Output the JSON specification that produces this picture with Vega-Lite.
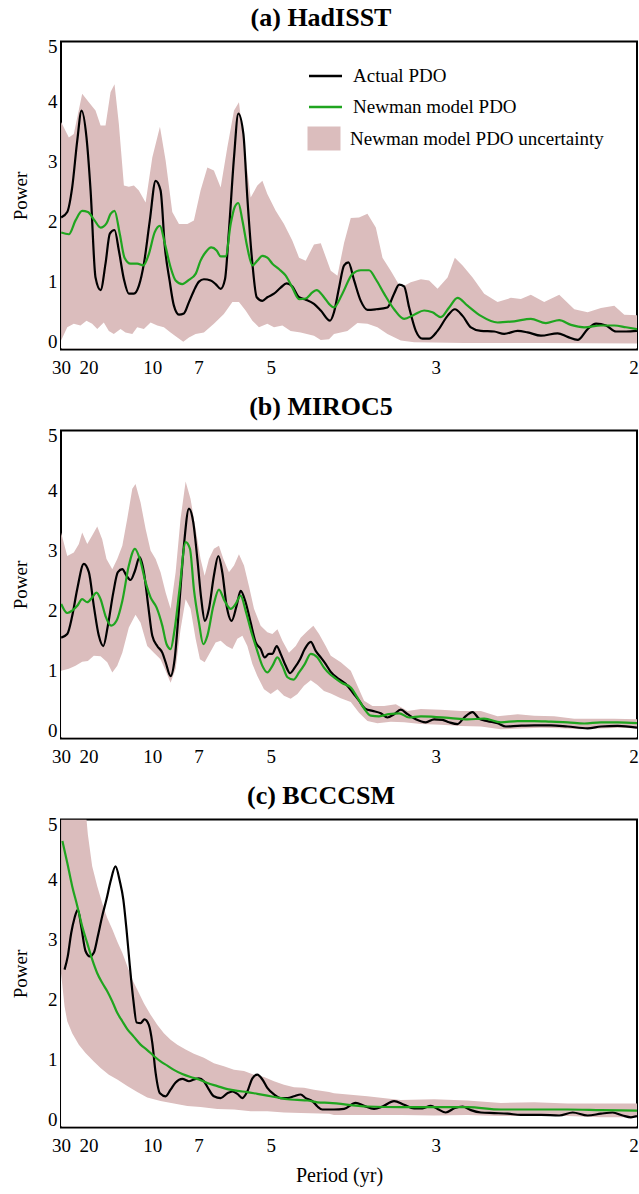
{
"$schema": "https://vega.github.io/schema/vega-lite/v6.json",
"background": "white",
"padding": {"left": 10, "top": 3.5, "right": 2, "bottom": 4},
"spacing": 81,
"bounds": "flush",
"config": {
  "font": "Liberation Serif",
  "view": {"stroke": "black", "strokeWidth": 2},
  "axis": {"grid": false, "domain": false, "ticks": false, "labelFont": "Liberation Serif", "labelFontSize": 19, "labelColor": "black", "titleFont": "Liberation Serif", "titleFontSize": 19, "titleFontWeight": "normal", "titleColor": "black", "labelFlush": false, "labelOverlap": false},
  "legend": {"labelFont": "Liberation Serif", "labelFontSize": 19, "labelColor": "black", "labelLimit": 0},
  "title": {"font": "Liberation Serif", "fontSize": 26, "fontWeight": "bold", "color": "black", "baseline": "alphabetic", "offset": 7}
},
"datasets": {
"a_act": [{"f":0.0335,"p":2.07},{"f":0.0384,"p":2.16},{"f":0.0424,"p":2.57},{"f":0.0465,"p":3.35},{"f":0.0500,"p":3.85},{"f":0.0540,"p":3.40},{"f":0.0573,"p":2.52},{"f":0.0613,"p":1.07},{"f":0.0654,"p":0.86},{"f":0.0694,"p":1.30},{"f":0.0729,"p":1.80},{"f":0.0767,"p":1.86},{"f":0.0802,"p":1.52},{"f":0.0843,"p":1.04},{"f":0.0883,"p":0.80},{"f":0.0924,"p":0.80},{"f":0.0964,"p":0.93},{"f":0.1005,"p":1.30},{"f":0.1053,"p":2.02},{"f":0.1100,"p":2.68},{"f":0.1140,"p":2.52},{"f":0.1175,"p":1.57},{"f":0.1213,"p":1.02},{"f":0.1248,"p":0.60},{"f":0.1289,"p":0.45},{"f":0.1329,"p":0.47},{"f":0.1370,"p":0.66},{"f":0.1410,"p":0.85},{"f":0.1451,"p":1.00},{"f":0.1491,"p":1.04},{"f":0.1546,"p":1.02},{"f":0.1586,"p":0.96},{"f":0.1627,"p":0.88},{"f":0.1662,"p":1.04},{"f":0.1694,"p":1.85},{"f":0.1735,"p":3.07},{"f":0.1770,"p":3.80},{"f":0.1811,"p":3.46},{"f":0.1843,"p":2.40},{"f":0.1884,"p":1.30},{"f":0.1919,"p":0.74},{"f":0.1965,"p":0.68},{"f":0.2005,"p":0.74},{"f":0.2059,"p":0.80},{"f":0.2113,"p":0.90},{"f":0.2162,"p":0.97},{"f":0.2208,"p":0.92},{"f":0.2262,"p":0.74},{"f":0.2316,"p":0.70},{"f":0.2383,"p":0.63},{"f":0.2438,"p":0.52},{"f":0.2513,"p":0.35},{"f":0.2545,"p":0.49},{"f":0.2586,"p":0.90},{"f":0.2627,"p":1.27},{"f":0.2662,"p":1.32},{"f":0.2708,"p":1.02},{"f":0.2762,"p":0.68},{"f":0.2816,"p":0.53},{"f":0.2884,"p":0.54},{"f":0.2978,"p":0.57},{"f":0.3032,"p":0.80},{"f":0.3073,"p":0.95},{"f":0.3113,"p":0.92},{"f":0.3154,"p":0.57},{"f":0.3208,"p":0.18},{"f":0.3262,"p":0.05},{"f":0.3316,"p":0.05},{"f":0.3384,"p":0.18},{"f":0.3465,"p":0.43},{"f":0.3524,"p":0.54},{"f":0.3587,"p":0.43},{"f":0.3654,"p":0.24},{"f":0.3735,"p":0.18},{"f":0.3843,"p":0.17},{"f":0.3924,"p":0.13},{"f":0.4033,"p":0.18},{"f":0.4114,"p":0.155},{"f":0.4222,"p":0.10},{"f":0.4357,"p":0.14},{"f":0.4438,"p":0.08},{"f":0.4519,"p":0.03},{"f":0.4600,"p":0.21},{"f":0.4668,"p":0.30},{"f":0.4749,"p":0.27},{"f":0.4830,"p":0.17},{"f":0.4911,"p":0.17},{"f":0.5000,"p":0.18}],
"a_new": [{"f":0.0335,"p":1.82},{"f":0.0397,"p":1.79},{"f":0.0451,"p":2.02},{"f":0.0505,"p":2.18},{"f":0.0551,"p":2.16},{"f":0.0605,"p":2.02},{"f":0.0654,"p":1.90},{"f":0.0702,"p":1.97},{"f":0.0735,"p":2.13},{"f":0.0767,"p":2.18},{"f":0.0810,"p":1.79},{"f":0.0848,"p":1.40},{"f":0.0897,"p":1.30},{"f":0.0951,"p":1.30},{"f":0.1000,"p":1.27},{"f":0.1045,"p":1.46},{"f":0.1092,"p":1.82},{"f":0.1135,"p":1.93},{"f":0.1175,"p":1.63},{"f":0.1221,"p":1.24},{"f":0.1262,"p":1.02},{"f":0.1316,"p":0.96},{"f":0.1370,"p":1.03},{"f":0.1424,"p":1.13},{"f":0.1464,"p":1.35},{"f":0.1505,"p":1.49},{"f":0.1551,"p":1.57},{"f":0.1594,"p":1.52},{"f":0.1627,"p":1.42},{"f":0.1667,"p":1.42},{"f":0.1708,"p":1.96},{"f":0.1740,"p":2.24},{"f":0.1770,"p":2.31},{"f":0.1803,"p":2.02},{"f":0.1843,"p":1.57},{"f":0.1884,"p":1.27},{"f":0.1924,"p":1.35},{"f":0.1965,"p":1.43},{"f":0.2005,"p":1.40},{"f":0.2046,"p":1.30},{"f":0.2099,"p":1.21},{"f":0.2154,"p":1.10},{"f":0.2208,"p":0.90},{"f":0.2262,"p":0.71},{"f":0.2316,"p":0.72},{"f":0.2370,"p":0.82},{"f":0.2404,"p":0.86},{"f":0.2464,"p":0.74},{"f":0.2505,"p":0.63},{"f":0.2545,"p":0.57},{"f":0.2613,"p":0.80},{"f":0.2695,"p":1.13},{"f":0.2762,"p":1.19},{"f":0.2829,"p":1.19},{"f":0.2884,"p":1.04},{"f":0.2951,"p":0.80},{"f":0.3032,"p":0.54},{"f":0.3113,"p":0.38},{"f":0.3194,"p":0.45},{"f":0.3275,"p":0.52},{"f":0.3343,"p":0.49},{"f":0.3411,"p":0.41},{"f":0.3478,"p":0.57},{"f":0.3546,"p":0.73},{"f":0.3627,"p":0.60},{"f":0.3735,"p":0.43},{"f":0.3870,"p":0.32},{"f":0.4005,"p":0.34},{"f":0.4140,"p":0.38},{"f":0.4262,"p":0.31},{"f":0.4370,"p":0.36},{"f":0.4465,"p":0.28},{"f":0.4573,"p":0.24},{"f":0.4708,"p":0.27},{"f":0.4816,"p":0.27},{"f":0.4911,"p":0.24},{"f":0.5000,"p":0.21}],
"a_hi": [{"f":0.0334,"p":3.66},{"f":0.0397,"p":3.40},{"f":0.0437,"p":3.46},{"f":0.0505,"p":4.13},{"f":0.0559,"p":3.99},{"f":0.0613,"p":3.85},{"f":0.0654,"p":3.60},{"f":0.0694,"p":3.60},{"f":0.0735,"p":4.16},{"f":0.0767,"p":4.29},{"f":0.0802,"p":3.63},{"f":0.0843,"p":2.60},{"f":0.0883,"p":2.58},{"f":0.0924,"p":2.60},{"f":0.0964,"p":2.52},{"f":0.1019,"p":2.32},{"f":0.1073,"p":3.07},{"f":0.1135,"p":3.58},{"f":0.1181,"p":3.02},{"f":0.1235,"p":2.16},{"f":0.1289,"p":1.96},{"f":0.1357,"p":1.96},{"f":0.1410,"p":2.02},{"f":0.1464,"p":2.52},{"f":0.1519,"p":2.90},{"f":0.1572,"p":2.85},{"f":0.1627,"p":2.57},{"f":0.1681,"p":3.24},{"f":0.1735,"p":3.85},{"f":0.1775,"p":3.99},{"f":0.1816,"p":3.29},{"f":0.1870,"p":2.40},{"f":0.1924,"p":2.60},{"f":0.1965,"p":2.68},{"f":0.2005,"p":2.46},{"f":0.2073,"p":2.18},{"f":0.2140,"p":1.96},{"f":0.2208,"p":1.68},{"f":0.2262,"p":1.40},{"f":0.2316,"p":1.35},{"f":0.2383,"p":1.62},{"f":0.2438,"p":1.64},{"f":0.2519,"p":1.18},{"f":0.2573,"p":1.10},{"f":0.2627,"p":1.65},{"f":0.2681,"p":2.06},{"f":0.2748,"p":2.07},{"f":0.2816,"p":2.13},{"f":0.2884,"p":1.90},{"f":0.2938,"p":1.40},{"f":0.3005,"p":1.18},{"f":0.3086,"p":0.90},{"f":0.3167,"p":0.99},{"f":0.3249,"p":1.04},{"f":0.3316,"p":1.02},{"f":0.3384,"p":0.88},{"f":0.3465,"p":1.07},{"f":0.3524,"p":1.40},{"f":0.3587,"p":1.27},{"f":0.3668,"p":1.07},{"f":0.3762,"p":0.80},{"f":0.3870,"p":0.66},{"f":0.3978,"p":0.73},{"f":0.4059,"p":0.71},{"f":0.4140,"p":0.78},{"f":0.4248,"p":0.66},{"f":0.4370,"p":0.78},{"f":0.4492,"p":0.54},{"f":0.4600,"p":0.49},{"f":0.4708,"p":0.56},{"f":0.4816,"p":0.60},{"f":0.4897,"p":0.45},{"f":0.5000,"p":0.44}],
"a_lo": [{"f":0.0334,"p":0.02},{"f":0.0384,"p":0.24},{"f":0.0437,"p":0.30},{"f":0.0491,"p":0.27},{"f":0.0540,"p":0.35},{"f":0.0586,"p":0.30},{"f":0.0627,"p":0.21},{"f":0.0680,"p":0.32},{"f":0.0721,"p":0.18},{"f":0.0761,"p":0.13},{"f":0.0816,"p":0.21},{"f":0.0856,"p":0.155},{"f":0.0911,"p":0.13},{"f":0.0951,"p":0.24},{"f":0.1005,"p":0.21},{"f":0.1059,"p":0.32},{"f":0.1113,"p":0.27},{"f":0.1167,"p":0.24},{"f":0.1221,"p":0.155},{"f":0.1276,"p":0.07},{"f":0.1324,"p":0.0},{"f":0.1370,"p":0.07},{"f":0.1424,"p":0.13},{"f":0.1491,"p":0.155},{"f":0.1572,"p":0.30},{"f":0.1653,"p":0.46},{"f":0.1722,"p":0.66},{"f":0.1775,"p":0.66},{"f":0.1829,"p":0.52},{"f":0.1884,"p":0.35},{"f":0.1937,"p":0.24},{"f":0.2005,"p":0.30},{"f":0.2059,"p":0.24},{"f":0.2127,"p":0.27},{"f":0.2194,"p":0.18},{"f":0.2275,"p":0.155},{"f":0.2383,"p":0.10},{"f":0.2438,"p":0.03},{"f":0.2505,"p":0.04},{"f":0.2545,"p":0.13},{"f":0.2654,"p":0.18},{"f":0.2735,"p":0.31},{"f":0.2816,"p":0.30},{"f":0.2897,"p":0.24},{"f":0.2978,"p":0.13},{"f":0.3086,"p":0.02},{"f":0.3194,"p":-0.01},{"f":0.3600,"p":-0.02},{"f":0.4200,"p":-0.02},{"f":0.5000,"p":-0.03}],
"b_act": [{"f":0.0335,"p":1.55},{"f":0.0384,"p":1.61},{"f":0.0424,"p":1.91},{"f":0.0465,"p":2.36},{"f":0.0518,"p":2.78},{"f":0.0559,"p":2.64},{"f":0.0599,"p":2.08},{"f":0.0640,"p":1.58},{"f":0.0676,"p":1.41},{"f":0.0713,"p":1.75},{"f":0.0757,"p":2.30},{"f":0.0794,"p":2.64},{"f":0.0830,"p":2.69},{"f":0.0864,"p":2.58},{"f":0.0897,"p":2.51},{"f":0.0932,"p":2.66},{"f":0.0970,"p":2.89},{"f":0.1005,"p":2.64},{"f":0.1040,"p":2.08},{"f":0.1073,"p":1.58},{"f":0.1113,"p":1.41},{"f":0.1154,"p":1.30},{"f":0.1181,"p":1.14},{"f":0.1221,"p":0.91},{"f":0.1254,"p":1.19},{"f":0.1289,"p":2.03},{"f":0.1329,"p":3.08},{"f":0.1370,"p":3.70},{"f":0.1405,"p":3.47},{"f":0.1438,"p":2.86},{"f":0.1470,"p":2.19},{"f":0.1499,"p":1.83},{"f":0.1532,"p":2.03},{"f":0.1572,"p":2.58},{"f":0.1608,"p":2.91},{"f":0.1640,"p":2.64},{"f":0.1675,"p":2.08},{"f":0.1716,"p":1.83},{"f":0.1756,"p":2.08},{"f":0.1789,"p":2.33},{"f":0.1829,"p":2.14},{"f":0.1870,"p":1.80},{"f":0.1911,"p":1.47},{"f":0.1951,"p":1.36},{"f":0.1984,"p":1.22},{"f":0.2018,"p":1.28},{"f":0.2046,"p":1.28},{"f":0.2081,"p":1.41},{"f":0.2113,"p":1.28},{"f":0.2154,"p":1.08},{"f":0.2189,"p":0.96},{"f":0.2227,"p":1.05},{"f":0.2270,"p":1.19},{"f":0.2308,"p":1.36},{"f":0.2357,"p":1.48},{"f":0.2397,"p":1.33},{"f":0.2438,"p":1.22},{"f":0.2478,"p":1.11},{"f":0.2519,"p":0.98},{"f":0.2586,"p":0.86},{"f":0.2640,"p":0.78},{"f":0.2695,"p":0.64},{"f":0.2748,"p":0.50},{"f":0.2802,"p":0.36},{"f":0.2857,"p":0.33},{"f":0.2924,"p":0.29},{"f":0.2978,"p":0.22},{"f":0.3032,"p":0.275},{"f":0.3086,"p":0.35},{"f":0.3141,"p":0.275},{"f":0.3208,"p":0.19},{"f":0.3289,"p":0.14},{"f":0.3356,"p":0.19},{"f":0.3424,"p":0.18},{"f":0.3478,"p":0.14},{"f":0.3546,"p":0.11},{"f":0.3600,"p":0.22},{"f":0.3668,"p":0.31},{"f":0.3721,"p":0.20},{"f":0.3789,"p":0.16},{"f":0.3870,"p":0.125},{"f":0.3938,"p":0.07},{"f":0.4033,"p":0.08},{"f":0.4167,"p":0.09},{"f":0.4303,"p":0.09},{"f":0.4438,"p":0.07},{"f":0.4600,"p":0.04},{"f":0.4708,"p":0.07},{"f":0.4843,"p":0.08},{"f":0.5000,"p":0.05}],
"b_new": [{"f":0.0335,"p":2.11},{"f":0.0384,"p":1.96},{"f":0.0424,"p":2.00},{"f":0.0465,"p":2.08},{"f":0.0505,"p":2.19},{"f":0.0546,"p":2.14},{"f":0.0586,"p":2.22},{"f":0.0621,"p":2.30},{"f":0.0654,"p":2.19},{"f":0.0694,"p":1.91},{"f":0.0740,"p":1.75},{"f":0.0783,"p":1.83},{"f":0.0830,"p":2.16},{"f":0.0883,"p":2.75},{"f":0.0932,"p":3.03},{"f":0.0972,"p":2.86},{"f":0.1019,"p":2.47},{"f":0.1059,"p":2.22},{"f":0.1108,"p":2.05},{"f":0.1154,"p":1.75},{"f":0.1189,"p":1.44},{"f":0.1221,"p":1.36},{"f":0.1254,"p":1.69},{"f":0.1294,"p":2.36},{"f":0.1343,"p":3.14},{"f":0.1378,"p":3.03},{"f":0.1410,"p":2.36},{"f":0.1451,"p":1.80},{"f":0.1486,"p":1.44},{"f":0.1519,"p":1.58},{"f":0.1568,"p":2.08},{"f":0.1613,"p":2.35},{"f":0.1659,"p":2.16},{"f":0.1708,"p":2.03},{"f":0.1748,"p":2.11},{"f":0.1789,"p":2.25},{"f":0.1829,"p":2.00},{"f":0.1876,"p":1.64},{"f":0.1919,"p":1.36},{"f":0.1965,"p":1.08},{"f":0.2005,"p":0.97},{"f":0.2046,"p":1.08},{"f":0.2087,"p":1.22},{"f":0.2127,"p":1.08},{"f":0.2168,"p":0.89},{"f":0.2216,"p":0.85},{"f":0.2262,"p":0.97},{"f":0.2308,"p":1.11},{"f":0.2357,"p":1.28},{"f":0.2411,"p":1.22},{"f":0.2464,"p":1.05},{"f":0.2513,"p":0.94},{"f":0.2545,"p":0.89},{"f":0.2613,"p":0.79},{"f":0.2681,"p":0.72},{"f":0.2735,"p":0.55},{"f":0.2789,"p":0.37},{"f":0.2843,"p":0.25},{"f":0.2910,"p":0.24},{"f":0.2991,"p":0.275},{"f":0.3073,"p":0.29},{"f":0.3154,"p":0.22},{"f":0.3249,"p":0.24},{"f":0.3356,"p":0.23},{"f":0.3492,"p":0.21},{"f":0.3627,"p":0.19},{"f":0.3762,"p":0.20},{"f":0.3897,"p":0.14},{"f":0.4033,"p":0.16},{"f":0.4167,"p":0.16},{"f":0.4303,"p":0.15},{"f":0.4438,"p":0.14},{"f":0.4573,"p":0.12},{"f":0.4708,"p":0.14},{"f":0.4843,"p":0.14},{"f":0.5000,"p":0.125}],
"b_hi": [{"f":0.0334,"p":3.30},{"f":0.0384,"p":2.91},{"f":0.0437,"p":2.97},{"f":0.0478,"p":3.11},{"f":0.0505,"p":3.30},{"f":0.0546,"p":3.11},{"f":0.0586,"p":3.25},{"f":0.0627,"p":3.40},{"f":0.0667,"p":3.19},{"f":0.0702,"p":2.86},{"f":0.0749,"p":2.69},{"f":0.0789,"p":2.86},{"f":0.0830,"p":3.08},{"f":0.0870,"p":3.53},{"f":0.0911,"p":4.03},{"f":0.0937,"p":4.11},{"f":0.0978,"p":3.80},{"f":0.1019,"p":3.36},{"f":0.1059,"p":3.00},{"f":0.1100,"p":2.86},{"f":0.1140,"p":2.64},{"f":0.1181,"p":2.30},{"f":0.1221,"p":2.03},{"f":0.1262,"p":2.64},{"f":0.1302,"p":3.53},{"f":0.1343,"p":4.15},{"f":0.1383,"p":3.86},{"f":0.1424,"p":3.36},{"f":0.1464,"p":2.86},{"f":0.1497,"p":2.58},{"f":0.1532,"p":2.86},{"f":0.1572,"p":3.03},{"f":0.1613,"p":3.08},{"f":0.1649,"p":2.86},{"f":0.1694,"p":2.64},{"f":0.1735,"p":2.75},{"f":0.1775,"p":2.94},{"f":0.1816,"p":2.75},{"f":0.1856,"p":2.41},{"f":0.1897,"p":2.03},{"f":0.1951,"p":1.75},{"f":0.2005,"p":1.64},{"f":0.2046,"p":1.61},{"f":0.2087,"p":1.69},{"f":0.2127,"p":1.50},{"f":0.2180,"p":1.30},{"f":0.2235,"p":1.41},{"f":0.2275,"p":1.55},{"f":0.2330,"p":1.66},{"f":0.2378,"p":1.75},{"f":0.2424,"p":1.61},{"f":0.2478,"p":1.41},{"f":0.2519,"p":1.25},{"f":0.2600,"p":1.14},{"f":0.2681,"p":1.00},{"f":0.2735,"p":0.75},{"f":0.2789,"p":0.50},{"f":0.2857,"p":0.41},{"f":0.2951,"p":0.41},{"f":0.3046,"p":0.44},{"f":0.3141,"p":0.33},{"f":0.3249,"p":0.36},{"f":0.3411,"p":0.35},{"f":0.3573,"p":0.33},{"f":0.3735,"p":0.33},{"f":0.3870,"p":0.24},{"f":0.4033,"p":0.275},{"f":0.4167,"p":0.25},{"f":0.4329,"p":0.24},{"f":0.4492,"p":0.20},{"f":0.4654,"p":0.20},{"f":0.4816,"p":0.20},{"f":0.5000,"p":0.19}],
"b_lo": [{"f":0.0334,"p":1.00},{"f":0.0397,"p":1.03},{"f":0.0451,"p":1.08},{"f":0.0505,"p":1.15},{"f":0.0551,"p":1.16},{"f":0.0599,"p":1.25},{"f":0.0654,"p":1.24},{"f":0.0708,"p":1.14},{"f":0.0749,"p":0.97},{"f":0.0789,"p":1.08},{"f":0.0830,"p":1.30},{"f":0.0883,"p":1.72},{"f":0.0937,"p":1.93},{"f":0.0978,"p":1.80},{"f":0.1032,"p":1.41},{"f":0.1086,"p":1.30},{"f":0.1140,"p":1.19},{"f":0.1181,"p":1.00},{"f":0.1221,"p":0.80},{"f":0.1262,"p":1.03},{"f":0.1302,"p":1.69},{"f":0.1343,"p":2.19},{"f":0.1383,"p":2.03},{"f":0.1424,"p":1.53},{"f":0.1459,"p":1.19},{"f":0.1497,"p":1.14},{"f":0.1540,"p":1.30},{"f":0.1586,"p":1.47},{"f":0.1627,"p":1.50},{"f":0.1675,"p":1.41},{"f":0.1722,"p":1.36},{"f":0.1762,"p":1.53},{"f":0.1803,"p":1.58},{"f":0.1843,"p":1.41},{"f":0.1884,"p":1.11},{"f":0.1924,"p":0.91},{"f":0.1978,"p":0.69},{"f":0.2032,"p":0.61},{"f":0.2087,"p":0.69},{"f":0.2140,"p":0.58},{"f":0.2194,"p":0.53},{"f":0.2249,"p":0.61},{"f":0.2302,"p":0.75},{"f":0.2357,"p":0.84},{"f":0.2411,"p":0.76},{"f":0.2464,"p":0.66},{"f":0.2519,"p":0.62},{"f":0.2600,"p":0.54},{"f":0.2681,"p":0.48},{"f":0.2748,"p":0.30},{"f":0.2816,"p":0.16},{"f":0.2897,"p":0.125},{"f":0.3005,"p":0.15},{"f":0.3113,"p":0.14},{"f":0.3249,"p":0.11},{"f":0.3411,"p":0.10},{"f":0.3573,"p":0.08},{"f":0.3735,"p":0.07},{"f":0.3897,"p":0.025},{"f":0.4059,"p":0.035},{"f":0.4222,"p":0.05},{"f":0.4384,"p":0.04},{"f":0.4546,"p":0.025},{"f":0.4708,"p":0.035},{"f":0.4870,"p":0.05},{"f":0.5000,"p":0.035}],
"c_act": [{"f":0.0362,"p":2.50},{"f":0.0388,"p":2.72},{"f":0.0416,"p":3.11},{"f":0.0443,"p":3.36},{"f":0.0470,"p":3.50},{"f":0.0497,"p":3.22},{"f":0.0532,"p":2.81},{"f":0.0567,"p":2.72},{"f":0.0599,"p":2.78},{"f":0.0632,"p":3.06},{"f":0.0667,"p":3.39},{"f":0.0702,"p":3.67},{"f":0.0735,"p":3.97},{"f":0.0775,"p":4.22},{"f":0.0810,"p":3.97},{"f":0.0838,"p":3.67},{"f":0.0864,"p":3.17},{"f":0.0891,"p":2.56},{"f":0.0919,"p":2.00},{"f":0.0946,"p":1.62},{"f":0.0978,"p":1.61},{"f":0.1010,"p":1.67},{"f":0.1045,"p":1.58},{"f":0.1073,"p":1.28},{"f":0.1100,"p":0.78},{"f":0.1135,"p":0.44},{"f":0.1181,"p":0.39},{"f":0.1221,"p":0.50},{"f":0.1262,"p":0.62},{"f":0.1316,"p":0.68},{"f":0.1370,"p":0.64},{"f":0.1410,"p":0.67},{"f":0.1451,"p":0.69},{"f":0.1491,"p":0.64},{"f":0.1532,"p":0.50},{"f":0.1572,"p":0.39},{"f":0.1627,"p":0.36},{"f":0.1681,"p":0.44},{"f":0.1722,"p":0.47},{"f":0.1762,"p":0.43},{"f":0.1803,"p":0.36},{"f":0.1843,"p":0.47},{"f":0.1884,"p":0.69},{"f":0.1924,"p":0.75},{"f":0.1965,"p":0.67},{"f":0.2005,"p":0.53},{"f":0.2059,"p":0.42},{"f":0.2113,"p":0.36},{"f":0.2168,"p":0.36},{"f":0.2221,"p":0.39},{"f":0.2275,"p":0.42},{"f":0.2316,"p":0.36},{"f":0.2370,"p":0.31},{"f":0.2411,"p":0.22},{"f":0.2451,"p":0.17},{"f":0.2545,"p":0.17},{"f":0.2627,"p":0.18},{"f":0.2721,"p":0.28},{"f":0.2789,"p":0.23},{"f":0.2870,"p":0.18},{"f":0.2938,"p":0.22},{"f":0.3032,"p":0.31},{"f":0.3113,"p":0.25},{"f":0.3194,"p":0.19},{"f":0.3262,"p":0.19},{"f":0.3330,"p":0.23},{"f":0.3384,"p":0.18},{"f":0.3451,"p":0.12},{"f":0.3519,"p":0.19},{"f":0.3587,"p":0.22},{"f":0.3654,"p":0.16},{"f":0.3735,"p":0.12},{"f":0.3843,"p":0.11},{"f":0.3952,"p":0.10},{"f":0.4059,"p":0.08},{"f":0.4222,"p":0.08},{"f":0.4370,"p":0.07},{"f":0.4479,"p":0.12},{"f":0.4600,"p":0.07},{"f":0.4708,"p":0.10},{"f":0.4803,"p":0.12},{"f":0.4884,"p":0.07},{"f":0.4951,"p":0.04},{"f":0.5000,"p":0.06}],
"c_new": [{"f":0.0345,"p":4.64},{"f":0.0384,"p":4.28},{"f":0.0424,"p":3.89},{"f":0.0465,"p":3.56},{"f":0.0505,"p":3.22},{"f":0.0546,"p":2.94},{"f":0.0586,"p":2.67},{"f":0.0627,"p":2.44},{"f":0.0667,"p":2.28},{"f":0.0708,"p":2.14},{"f":0.0749,"p":1.97},{"f":0.0789,"p":1.78},{"f":0.0830,"p":1.64},{"f":0.0870,"p":1.51},{"f":0.0924,"p":1.38},{"f":0.0978,"p":1.25},{"f":0.1032,"p":1.16},{"f":0.1086,"p":1.06},{"f":0.1140,"p":0.97},{"f":0.1195,"p":0.90},{"f":0.1248,"p":0.83},{"f":0.1316,"p":0.76},{"f":0.1383,"p":0.71},{"f":0.1451,"p":0.67},{"f":0.1519,"p":0.61},{"f":0.1600,"p":0.56},{"f":0.1681,"p":0.51},{"f":0.1762,"p":0.48},{"f":0.1843,"p":0.46},{"f":0.1924,"p":0.43},{"f":0.2005,"p":0.40},{"f":0.2087,"p":0.37},{"f":0.2168,"p":0.34},{"f":0.2249,"p":0.33},{"f":0.2330,"p":0.32},{"f":0.2411,"p":0.29},{"f":0.2505,"p":0.28},{"f":0.2816,"p":0.22},{"f":0.3086,"p":0.21},{"f":0.3356,"p":0.21},{"f":0.3627,"p":0.21},{"f":0.3897,"p":0.17},{"f":0.4167,"p":0.17},{"f":0.4438,"p":0.17},{"f":0.4708,"p":0.16},{"f":0.5000,"p":0.15}],
"c_hi": [{"f":0.0334,"p":5.0},{"f":0.0540,"p":5.0},{"f":0.0551,"p":4.75},{"f":0.0586,"p":4.22},{"f":0.0627,"p":3.89},{"f":0.0667,"p":3.61},{"f":0.0708,"p":3.36},{"f":0.0749,"p":3.17},{"f":0.0789,"p":2.97},{"f":0.0830,"p":2.78},{"f":0.0870,"p":2.56},{"f":0.0911,"p":2.33},{"f":0.0951,"p":2.17},{"f":0.1005,"p":1.94},{"f":0.1059,"p":1.75},{"f":0.1113,"p":1.58},{"f":0.1167,"p":1.44},{"f":0.1221,"p":1.33},{"f":0.1276,"p":1.25},{"f":0.1343,"p":1.17},{"f":0.1410,"p":1.10},{"f":0.1491,"p":1.03},{"f":0.1572,"p":0.94},{"f":0.1653,"p":0.89},{"f":0.1735,"p":0.83},{"f":0.1816,"p":0.81},{"f":0.1897,"p":0.75},{"f":0.1978,"p":0.71},{"f":0.2059,"p":0.64},{"f":0.2140,"p":0.58},{"f":0.2221,"p":0.54},{"f":0.2302,"p":0.53},{"f":0.2383,"p":0.50},{"f":0.2505,"p":0.46},{"f":0.2545,"p":0.44},{"f":0.2816,"p":0.39},{"f":0.3086,"p":0.33},{"f":0.3356,"p":0.34},{"f":0.3627,"p":0.32},{"f":0.3897,"p":0.28},{"f":0.4167,"p":0.29},{"f":0.4438,"p":0.27},{"f":0.4708,"p":0.27},{"f":0.5000,"p":0.27}],
"c_lo": [{"f":0.0334,"p":2.44},{"f":0.0362,"p":1.89},{"f":0.0384,"p":1.64},{"f":0.0424,"p":1.44},{"f":0.0478,"p":1.25},{"f":0.0532,"p":1.11},{"f":0.0599,"p":0.97},{"f":0.0654,"p":0.86},{"f":0.0721,"p":0.75},{"f":0.0789,"p":0.67},{"f":0.0870,"p":0.56},{"f":0.0951,"p":0.46},{"f":0.1032,"p":0.37},{"f":0.1140,"p":0.31},{"f":0.1248,"p":0.27},{"f":0.1357,"p":0.23},{"f":0.1464,"p":0.21},{"f":0.1600,"p":0.18},{"f":0.1735,"p":0.17},{"f":0.1870,"p":0.14},{"f":0.2005,"p":0.14},{"f":0.2140,"p":0.12},{"f":0.2275,"p":0.11},{"f":0.2505,"p":0.10},{"f":0.2545,"p":0.08},{"f":0.2816,"p":0.08},{"f":0.3086,"p":0.08},{"f":0.3356,"p":0.07},{"f":0.3627,"p":0.08},{"f":0.3897,"p":0.06},{"f":0.4167,"p":0.06},{"f":0.4438,"p":0.06},{"f":0.4708,"p":0.04},{"f":0.5000,"p":0.04}],
"seven": [{"f":0.142857}]
},
"vconcat": [
{
  "width": 576, "height": 308,
  "title": {"text": "(a) HadISST", "dx": -28},
  "encoding": {
    "x": {"field": "f", "type": "quantitative", "scale": {"domain": [0.033333, 0.5], "nice": false, "zero": false},
      "axis": {"values": [0.033333, 0.05563, 0.10721, 0.14483, 0.20322, 0.33701, 0.49716], "labelExpr": "datum.value < 0.04 ? '30' : datum.value < 0.07 ? '20' : datum.value < 0.12 ? '10' : datum.value < 0.17 ? '7' : datum.value < 0.25 ? '5' : datum.value < 0.4 ? '3' : '2'", "title": null, "labelPadding": 8.5}},
    "y": {"field": "p", "type": "quantitative", "scale": {"domain": [-0.13, 5], "nice": false, "zero": false},
      "axis": {"values": [0, 1, 2, 3, 4, 4.915], "labelExpr": "'' + round(datum.value)", "title": "Power", "labelPadding": 4, "titlePadding": 17}}
  },
  "layer": [
    {"data": {"name": "a_hi"}, "mark": {"type": "area", "opacity": 1, "clip": true},
     "encoding": {"y2": {"datum": -0.11},
       "fill": {"datum": "Newman model PDO uncertainty", "type": "nominal",
         "scale": {"domain": ["Newman model PDO uncertainty"], "range": ["#dbbdbd"]},
         "legend": {"orient": "none", "legendX": 253, "legendY": 87, "title": null, "symbolType": "M-1.65,-1.2H1.65V1.2H-1.65Z", "symbolSize": 400, "symbolStrokeWidth": 0, "symbolOpacity": 1, "labelOffset": 16}}}},
    {"data": {"name": "a_lo"}, "mark": {"type": "area", "fill": "white", "opacity": 1, "clip": true}, "encoding": {"y2": {"datum": -0.11}}},
    {"data": {"name": "seven"}, "mark": {"type": "rule", "color": "black", "strokeWidth": 2.5, "strokeDash": [11, 7]}, "encoding": {"y": {"datum": -0.13}, "y2": {"datum": 5}}},
    {"data": {"name": "a_act"}, "mark": {"type": "line", "strokeWidth": 2.2, "interpolate": "monotone", "clip": true},
     "encoding": {"stroke": {"datum": "Actual PDO", "type": "nominal",
       "scale": {"domain": ["Actual PDO", "Newman model PDO"], "range": ["black", "#1fa51f"]},
       "legend": {"orient": "none", "legendX": 253, "legendY": 23, "title": null, "symbolType": "M-1.65,0H1.65", "symbolSize": 400, "symbolStrokeWidth": 2.5, "symbolOpacity": 1, "labelOffset": 16, "rowPadding": 9}}}},
    {"data": {"name": "a_new"}, "mark": {"type": "line", "strokeWidth": 2.2, "interpolate": "monotone", "clip": true},
     "encoding": {"stroke": {"datum": "Newman model PDO", "type": "nominal",
       "legend": {"orient": "none", "legendX": 253, "legendY": 23, "title": null, "symbolType": "M-1.65,0H1.65", "symbolSize": 400, "symbolStrokeWidth": 2.5, "symbolOpacity": 1, "labelOffset": 16, "rowPadding": 9}}}}
  ]
},
{
  "width": 576, "height": 308,
  "title": {"text": "(b) MIROC5", "dx": -28},
  "encoding": {
    "x": {"field": "f", "type": "quantitative", "scale": {"domain": [0.033333, 0.5], "nice": false, "zero": false},
      "axis": {"values": [0.033333, 0.05563, 0.10721, 0.14483, 0.20322, 0.33701, 0.49716], "labelExpr": "datum.value < 0.04 ? '30' : datum.value < 0.07 ? '20' : datum.value < 0.12 ? '10' : datum.value < 0.17 ? '7' : datum.value < 0.25 ? '5' : datum.value < 0.4 ? '3' : '2'", "title": null, "labelPadding": 8.5}},
    "y": {"field": "p", "type": "quantitative", "scale": {"domain": [-0.13, 5], "nice": false, "zero": false},
      "axis": {"values": [0, 1, 2, 3, 4, 4.915], "labelExpr": "'' + round(datum.value)", "title": "Power", "labelPadding": 4, "titlePadding": 17}}
  },
  "layer": [
    {"data": {"name": "b_hi"}, "mark": {"type": "area", "fill": "#dbbdbd", "opacity": 1, "clip": true}, "encoding": {"y2": {"datum": -0.11}}},
    {"data": {"name": "b_lo"}, "mark": {"type": "area", "fill": "white", "opacity": 1, "clip": true}, "encoding": {"y2": {"datum": -0.11}}},
    {"data": {"name": "seven"}, "mark": {"type": "rule", "color": "black", "strokeWidth": 2.5, "strokeDash": [11, 7]}, "encoding": {"y": {"datum": -0.13}, "y2": {"datum": 5}}},
    {"data": {"name": "b_act"}, "mark": {"type": "line", "color": "black", "strokeWidth": 2.2, "interpolate": "monotone", "clip": true}},
    {"data": {"name": "b_new"}, "mark": {"type": "line", "color": "#1fa51f", "strokeWidth": 2.2, "interpolate": "monotone", "clip": true}}
  ]
},
{
  "width": 576, "height": 308,
  "title": {"text": "(c) BCCCSM", "dx": -28},
  "encoding": {
    "x": {"field": "f", "type": "quantitative", "scale": {"domain": [0.033333, 0.5], "nice": false, "zero": false},
      "axis": {"values": [0.033333, 0.05563, 0.10721, 0.14483, 0.20322, 0.33701, 0.49716], "labelExpr": "datum.value < 0.04 ? '30' : datum.value < 0.07 ? '20' : datum.value < 0.12 ? '10' : datum.value < 0.17 ? '7' : datum.value < 0.25 ? '5' : datum.value < 0.4 ? '3' : '2'", "title": "Period (yr)", "titleFontSize": 20, "titlePadding": 10, "titleX": 278, "labelPadding": 8.5}},
    "y": {"field": "p", "type": "quantitative", "scale": {"domain": [-0.13, 5], "nice": false, "zero": false},
      "axis": {"values": [0, 1, 2, 3, 4, 4.915], "labelExpr": "'' + round(datum.value)", "title": "Power", "labelPadding": 4, "titlePadding": 17}}
  },
  "layer": [
    {"data": {"name": "c_hi"}, "mark": {"type": "area", "fill": "#dbbdbd", "opacity": 1, "clip": true}, "encoding": {"y2": {"datum": -0.11}}},
    {"data": {"name": "c_lo"}, "mark": {"type": "area", "fill": "white", "opacity": 1, "clip": true}, "encoding": {"y2": {"datum": -0.11}}},
    {"data": {"name": "seven"}, "mark": {"type": "rule", "color": "black", "strokeWidth": 2.5, "strokeDash": [11, 7]}, "encoding": {"y": {"datum": -0.13}, "y2": {"datum": 5}}},
    {"data": {"name": "c_act"}, "mark": {"type": "line", "color": "black", "strokeWidth": 2.2, "interpolate": "monotone", "clip": true}},
    {"data": {"name": "c_new"}, "mark": {"type": "line", "color": "#1fa51f", "strokeWidth": 2.2, "interpolate": "monotone", "clip": true}}
  ]
}
]
}
